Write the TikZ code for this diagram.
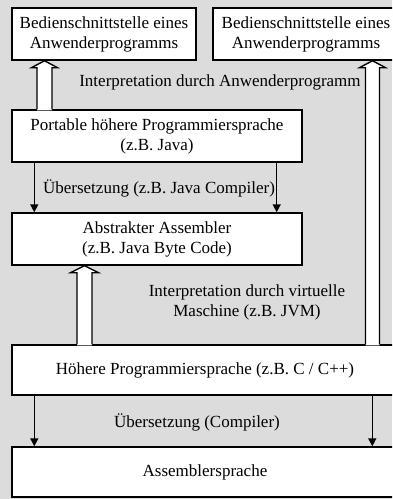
\documentclass[tikz,border=0pt]{standalone}
\usepackage{fontspec}
\setmainfont{Liberation Serif}
\usetikzlibrary{arrows.meta,calc}
\definecolor{bg}{RGB}{220,220,220}
\tikzset{
  box/.style={draw=black, line width=1.4pt, fill=white, align=center, inner sep=0pt,
    font=\fontsize{17}{20}\selectfont},
  lbl/.style={align=center, inner sep=0pt, font=\fontsize{17}{20}\selectfont},
  down/.style={line width=1.4pt, -{Triangle[width=8pt,length=8pt]}},
  hollowline/.style={draw=black, line width=1.4pt, line join=miter},
}
\newcommand\hollowarrow[5]{% x, bottom anchor, top anchor, shaft half, head half
  \fill[white] let \p1=(#2), \p2=(#3) in
    (#1pt-#4pt,\y1-1pt) -- (#1pt-#4pt,\y2-7pt) -- (#1pt-#5pt,\y2-7pt) -- (#1pt,\y2)
    -- (#1pt+#5pt,\y2-7pt) -- (#1pt+#4pt,\y2-7pt) -- (#1pt+#4pt,\y1-1pt) -- cycle;
  \draw[hollowline] let \p1=(#2), \p2=(#3) in
    (#1pt-#4pt,\y1) -- (#1pt-#4pt,\y2-7pt) -- (#1pt-#5pt,\y2-7pt) -- (#1pt,\y2)
    -- (#1pt+#5pt,\y2-7pt) -- (#1pt+#4pt,\y2-7pt) -- (#1pt+#4pt,\y1);
}
\begin{document}
\begin{tikzpicture}[x=1pt,y=-1pt]
\useasboundingbox (0,0) rectangle (392,499);
\clip (0,0) rectangle (392,499);
\fill[bg] (0,0) rectangle (392,499);

\node[box, minimum width=184pt, minimum height=52pt] (tl) at (104,34)
  {Bedienschnittstelle eines\\Anwenderprogramms};
\node[box, minimum width=186pt, minimum height=52pt] (tr) at (306,34)
  {Bedienschnittstelle eines\\Anwenderprogramms};
\node[box, minimum width=290pt, minimum height=52pt] (port) at (157,136)
  {Portable höhere Programmiersprache\\(z.B. Java)};
\node[box, minimum width=290pt, minimum height=52pt] (abs) at (157,239)
  {Abstrakter Assembler\\(z.B. Java Byte Code)};
\node[box, minimum width=386pt, minimum height=50pt] (hoe) at (205,370)
  {Höhere Programmiersprache (z.B. C / C++)};
\node[box, minimum width=386pt, minimum height=50pt] (asm) at (205,472)
  {Assemblersprache};

\node[lbl] (i1) at (220,82) {Interpretation durch Anwenderprogramm};
\node[lbl] (u1) at (159,188) {Übersetzung (z.B. Java Compiler)};
\node[lbl] (i2) at (247,302) {Interpretation durch virtuelle\\Maschine (z.B. JVM)};
\node[lbl] (u2) at (197,422) {Übersetzung (Compiler)};

\hollowarrow{44.5}{port.north}{tl.south}{7.5}{13}
\hollowarrow{372.5}{hoe.north}{tr.south}{7}{13}
\hollowarrow{84.5}{hoe.north}{abs.south}{7.5}{14}

\draw[down] ($(port.south west)+(23,0)$) -- ($(abs.north west)+(23,0)$);
\draw[down] ($(port.south east)+(-26,0)$) -- ($(abs.north east)+(-26,0)$);
\draw[down] ($(hoe.south west)+(23,0)$) -- ($(asm.north west)+(23,0)$);
\draw[down] ($(hoe.south west)+(361,0)$) -- ($(asm.north west)+(361,0)$);
\end{tikzpicture}
\end{document}
